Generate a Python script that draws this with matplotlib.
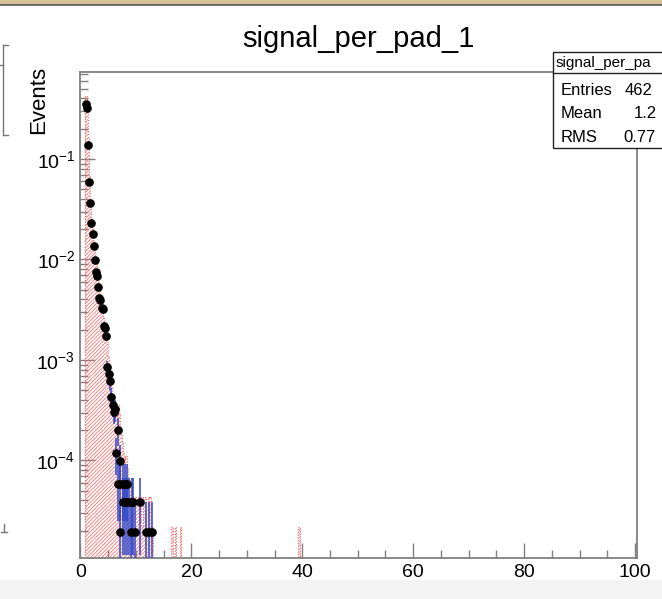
import numpy as np
import matplotlib
matplotlib.use("Agg")
import matplotlib.pyplot as plt
from matplotlib.patches import Rectangle
from matplotlib.lines import Line2D
from matplotlib.ticker import LogLocator, NullFormatter, MultipleLocator, FixedLocator

plt.rcParams['font.family'] = ['Liberation Sans', 'DejaVu Sans']
plt.rcParams['mathtext.fontset'] = 'custom'
plt.rcParams['mathtext.rm'] = 'Liberation Sans'
plt.rcParams['mathtext.it'] = 'Liberation Sans:italic'
plt.rcParams['hatch.linewidth'] = 0.5
plt.rcParams['hatch.color'] = '#ff5a5a'

# ---------------- data ----------------
title = "signal_per_pad_1"
box_title = "signal_per_pa"
y_label = "Events"
x_ticks = [0, 20, 40, 60, 80, 100]
stat_names = ["Entries", "Mean", "RMS"]
stat_values = ["462", "1.2", "0.77"]
n_data_norm = 51300  # events per unit of normalised content (data points)

# data points (black markers)
data_x = [0.95, 1.26, 1.39, 1.62, 1.80, 1.86, 2.29, 2.40, 2.70, 2.83, 2.94, 3.24,
          3.42, 3.60, 3.91, 4.14, 4.20, 4.38, 4.68, 4.81, 5.10, 5.35, 5.59, 5.82,
          6.07, 6.18, 6.72, 6.36, 7.08,
          6.80, 7.20, 7.60, 8.00, 8.35,
          7.60, 8.00, 8.40, 8.80, 9.20, 9.55, 10.68,
          7.21, 9.19, 9.82, 11.80, 12.34, 12.85]
data_y = [0.352, 0.319, 0.138, 0.0594, 0.0369, 0.0232, 0.0178, 0.0136, 0.00988,
          0.00757, 0.00686, 0.00529, 0.00417, 0.00391, 0.00331, 0.00319, 0.00219,
          0.00206, 0.00173, 0.000857, 0.000726, 0.000618, 0.000431, 0.000357,
          0.000306, 0.000323, 0.000201, 0.000120, 0.0000995,
          5.85e-5, 5.85e-5, 5.85e-5, 5.85e-5, 5.85e-5,
          3.90e-5, 3.90e-5, 3.90e-5, 3.90e-5, 3.90e-5, 3.90e-5, 3.90e-5,
          1.95e-5, 1.95e-5, 1.95e-5, 1.95e-5, 1.95e-5, 1.95e-5]

# reference histogram (red hatched)
mc_edges = [0.9, 1.1, 1.3, 1.5, 1.7, 1.9, 2.1, 2.3, 2.5, 2.7, 2.9, 3.1, 3.3, 3.5,
            3.7, 3.9, 4.1, 4.3, 4.5, 4.7, 4.9, 5.1, 5.3, 5.5, 5.7, 5.9, 6.1, 6.3,
            6.5, 6.7, 6.9, 7.1, 7.3, 7.5, 7.7, 7.9, 8.1, 8.3, 8.6, 8.9, 9.2, 9.5,
            9.8, 10.1, 10.4, 10.7, 11.0, 11.3, 11.6, 11.9, 12.2, 12.5, 12.8, 13.1]
mc_vals = [0.42, 0.38, 0.16, 0.070, 0.040, 0.026, 0.020, 0.015, 0.012, 0.0090,
           0.0074, 0.0060, 0.0049, 0.0042, 0.0037, 0.0033, 0.0027, 0.0023, 0.0019,
           0.0015, 0.0011, 0.00085, 0.00068, 0.00055, 0.00045, 0.00038, 0.00033,
           0.00028, 0.00024, 0.00036, 0.00030, 0.00022, 0.00018, 0.00015, 0.00012,
           0.00010, 0.00011, 8.6e-5, 6.5e-5, 6.5e-5, 4.3e-5, 4.3e-5, 4.3e-5,
           4.3e-5, 4.3e-5, 4.3e-5, 2.16e-5, 4.3e-5, 4.3e-5, 2.16e-5, 4.3e-5,
           4.3e-5, 2.16e-5]
spike_left = [16.4, 17.0, 17.9, 39.3]
spike_vals = [2.16e-5, 2.16e-5, 2.16e-5, 2.16e-5]
spike_width = 0.2

# ---------------- figure ----------------
W, H = 662, 599
fig = plt.figure(figsize=(W / 100, H / 100), dpi=100)
fig.patch.set_facecolor('white')

def fx(px):
    return px / W

def fy(py):
    return 1 - py / H

# window chrome remnants
fig.patches.append(Rectangle((0, fy(4.5)), 1, 4.5 / H, transform=fig.transFigure,
                             facecolor='#d6c196', edgecolor='none', zorder=0))
fig.lines.append(Line2D([0, 1], [fy(5), fy(5)], transform=fig.transFigure,
                        color='#555555', lw=1.2))
fig.patches.append(Rectangle((0, 0), 1, 19 / H, transform=fig.transFigure,
                             facecolor='#f3f3f3', edgecolor='none', zorder=0))
# neighbouring pad remnants on the left
for xs, ys in [([3, 3], [45, 135]), ([3, 8], [45, 45]), ([3, 8], [135, 135]),
               ([0, 3], [65, 65]), ([4, 4], [524, 532]), ([1, 7], [532, 532])]:
    fig.lines.append(Line2D([fx(v) for v in xs], [fy(v) for v in ys],
                            transform=fig.transFigure, color='#777777', lw=1))

L, R, T, B = 79.5, 637, 72, 558
ax = fig.add_axes([fx(L), fy(B), (R - L) / W, (B - T) / H])
ax.set_yscale('log')
ax.set_xlim(-0.18, 100.36)
ax.set_ylim(1.07e-5, 0.734)

# reference histogram
widths = np.diff(mc_edges)
ax.bar(mc_edges[:-1], mc_vals, width=widths, align='edge', bottom=1e-9,
       facecolor='none', edgecolor='#ff5a5a', hatch='/////////', linewidth=0, zorder=2)
ax.stairs(mc_vals, mc_edges, baseline=1e-9, color='#ff6060', lw=0.8,
          linestyle=(0, (1, 1.5)), zorder=2)
ax.bar(spike_left, spike_vals, width=spike_width, align='edge', bottom=1e-9,
       facecolor='none', edgecolor='#ff6060', linewidth=0.8,
       linestyle=(0, (1, 1.5)), hatch='/////////', zorder=2)

# data points with Poisson errors
dx = np.array(data_x)
dy = np.array(data_y)
counts = dy * n_data_norm
rel = 1 / np.sqrt(counts)
lo = np.minimum(dy * rel, dy * (1 - 1e-6))
hi = dy * rel
ax.errorbar(dx, dy, yerr=[lo, hi], fmt='none', ecolor='#3048c8', elinewidth=1.1,
            capsize=0, zorder=3)
ax.plot(dx, dy, 'o', color='black', markersize=5.2, zorder=4)

# axes styling (ROOT-like)
for s in ax.spines.values():
    s.set_color('#808080')
    s.set_linewidth(1.3)
ax.xaxis.set_major_locator(FixedLocator(x_ticks))
ax.xaxis.set_minor_locator(MultipleLocator(5))
ax.yaxis.set_major_locator(LogLocator(base=10, numticks=20))
ax.yaxis.set_minor_locator(LogLocator(base=10, subs=np.arange(2, 10), numticks=20))
ax.yaxis.set_minor_formatter(NullFormatter())
ax.tick_params(which='both', direction='in', color='#808080', width=1,
               top=False, right=False, labelsize=14, labelcolor='black')
ax.tick_params(which='major', length=11)
ax.tick_params(which='minor', length=5.5)
ax.tick_params(axis='x', pad=4)
ax.tick_params(axis='y', pad=3)

# title and axis label
fig.text(fx(358.5), fy(47), title, ha='center', va='baseline', fontsize=21)
fig.text(fx(39), fy(66), y_label, rotation=90, ha='center', va='top', fontsize=16)

# stats box
fig.patches.append(Rectangle((fx(553), fy(148)), (720 - 553) / W, (148 - 52) / H,
                             transform=fig.transFigure, facecolor='white',
                             edgecolor='#222222', lw=1, zorder=5))
fig.lines.append(Line2D([fx(553), fx(720)], [fy(73), fy(73)],
                        transform=fig.transFigure, color='#222222', lw=1, zorder=6))
fig.text(fx(556), fy(62.5), box_title, ha='left', va='center', fontsize=11, zorder=7)
stat_x = [625, 634, 623]
for i, (nm, val) in enumerate(zip(stat_names, stat_values)):
    yy = fy(90 + 23.5 * i)
    fig.text(fx(561), yy, nm, ha='left', va='center', fontsize=12, zorder=7)
    fig.text(fx(stat_x[i]), yy, val, ha='left', va='center', fontsize=12, zorder=7)

fig.savefig('out.png', dpi=100)
